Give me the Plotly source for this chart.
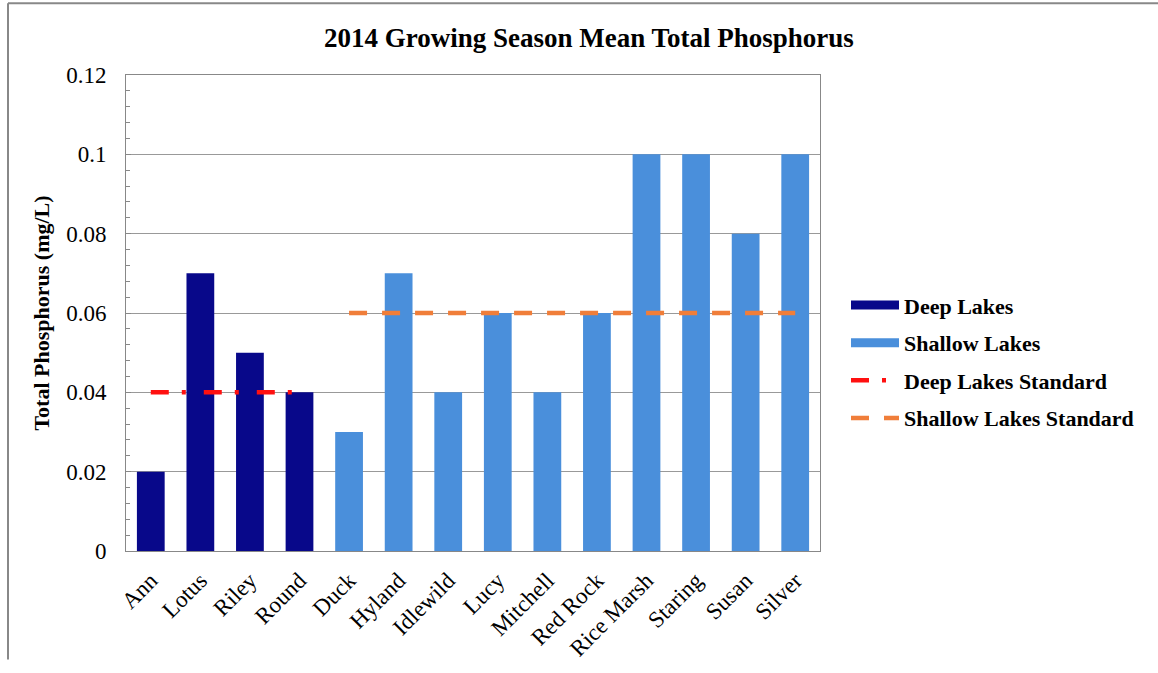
import plotly.graph_objects as go

deep_lakes = ["Ann", "Lotus", "Riley", "Round"]
deep_tp = [0.02, 0.07, 0.05, 0.04]
shallow_lakes = ["Duck", "Hyland", "Idlewild", "Lucy", "Mitchell", "Red Rock",
                 "Rice Marsh", "Staring", "Susan", "Silver"]
shallow_tp = [0.03, 0.07, 0.04, 0.06, 0.04, 0.06, 0.10, 0.10, 0.08, 0.10]
deep_standard = 0.04
shallow_standard = 0.06
categories = deep_lakes + shallow_lakes
y_ticks = [0, 0.02, 0.04, 0.06, 0.08, 0.1, 0.12]
y_ticktext = ["0", "0.02", "0.04", "0.06", "0.08", "0.1", "0.12"]

font_fam = "Liberation Serif, Times New Roman, serif"
deep_color = "#08088A"
shallow_color = "#4A8FDB"
deep_std_color = "#FF1010"
shallow_std_color = "#F07E3A"

fig = go.Figure()
fig.add_trace(go.Bar(x=deep_lakes, y=deep_tp, name="Deep Lakes", showlegend=False,
                     marker=dict(color=deep_color, line=dict(width=0))))
fig.add_trace(go.Bar(x=shallow_lakes, y=shallow_tp, name="Shallow Lakes", showlegend=False,
                     marker=dict(color=shallow_color, line=dict(width=0))))
# legend entries styled like the reference (long bar swatches)
fig.add_trace(go.Scatter(x=[None], y=[None], mode="lines", name="<b>Deep Lakes</b>",
                         legendgroup="a", line=dict(color=deep_color, width=9)))
fig.add_trace(go.Scatter(x=[None], y=[None], mode="lines", name="<b>Shallow Lakes</b>",
                         legendgroup="b", line=dict(color=shallow_color, width=9)))
fig.add_trace(go.Scatter(x=deep_lakes, y=[deep_standard] * len(deep_lakes),
                         mode="lines", name="<b>Deep Lakes Standard</b>", legendgroup="c",
                         line=dict(color=deep_std_color, width=4.5,
                                   dash="18px,13px,4px,18px")))
fig.add_trace(go.Scatter(x=shallow_lakes, y=[shallow_standard] * len(shallow_lakes),
                         mode="lines", name="<b>Shallow Lakes Standard</b>", legendgroup="d",
                         line=dict(color=shallow_std_color, width=4.5, dash="18px,15px")))

fig.update_layout(
    width=1158, height=673,
    margin=dict(l=126, r=338, t=75, b=120),
    paper_bgcolor="white", plot_bgcolor="white",
    bargap=0.44, barmode="overlay",
    title=dict(text="<b>2014 Growing Season Mean Total Phosphorus</b>",
               x=0.5086, xanchor="center", y=0.9435, yanchor="middle",
               font=dict(family=font_fam, size=27, color="black")),
    font=dict(family=font_fam, size=21, color="black"),
    legend=dict(x=(846 - 126) / 694, y=(553 - 363) / 478, xanchor="left", yanchor="middle",
                font=dict(family=font_fam, size=22, color="black"),
                tracegroupgap=6, traceorder="grouped", itemwidth=48),
    showlegend=True,
)
fig.update_xaxes(categoryorder="array", categoryarray=categories,
                 tickangle=-45, tickfont=dict(family=font_fam, size=23),
                 showline=True, linecolor="#888888", linewidth=1, mirror=True,
                 ticks="", showgrid=False, ticklabelstandoff=6)
fig.update_yaxes(range=[0, 0.12], tickvals=y_ticks, ticktext=y_ticktext,
                 tickfont=dict(family=font_fam, size=23),
                 title=dict(text="<b>Total Phosphorus (mg/L)</b>",
                            font=dict(family=font_fam, size=22), standoff=10),
                 showline=True, linecolor="#888888", linewidth=1, mirror=True,
                 showgrid=True, gridcolor="#999999", gridwidth=1,
                 ticks="inside", ticklen=5, tickcolor="#888888",
                 minor=dict(dtick=0.004, ticks="inside", ticklen=4, tickcolor="#888888"),
                 zeroline=False, ticklabelstandoff=14)

# outer chart-area border remnants (left and top)
fig.add_shape(type="line", xref="paper", yref="paper",
              x0=(8 - 126) / 694, x1=(8 - 126) / 694,
              y0=(553 - 662) / 478, y1=(553 - 3) / 478,
              line=dict(color="#888888", width=2))
fig.add_shape(type="line", xref="paper", yref="paper",
              x0=(8 - 126) / 694, x1=(1158 - 126) / 694,
              y0=(553 - 3) / 478, y1=(553 - 3) / 478,
              line=dict(color="#888888", width=2))

fig.write_html("out.html")
